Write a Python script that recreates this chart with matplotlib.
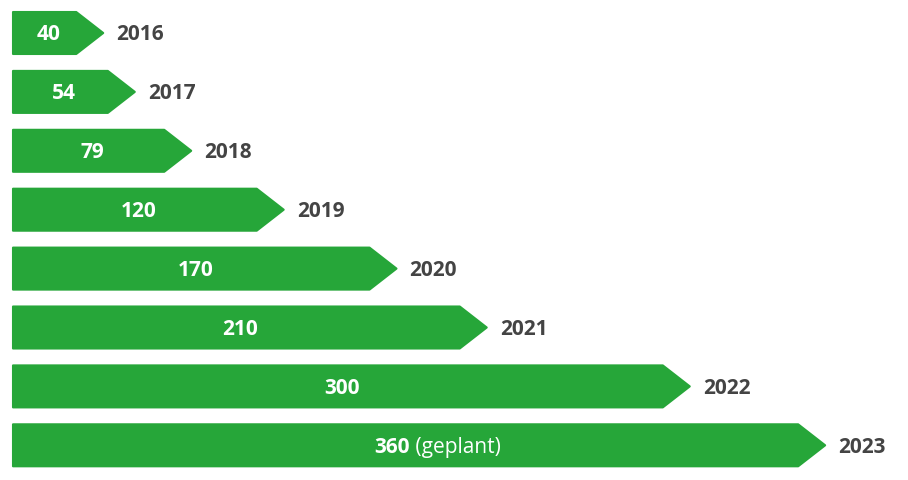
import matplotlib.pyplot as plt
from matplotlib.patches import Polygon

years = ["2016", "2017", "2018", "2019", "2020", "2021", "2022", "2023"]
values = [40, 54, 79, 120, 170, 210, 300, 360]
suffix = ["", "", "", "", "", "", "", " (geplant)"]

green = "#26a639"
grey = "#444444"

fig = plt.figure(figsize=(9.08, 4.81), dpi=100)
ax = fig.add_axes([0, 0, 1, 1])
ax.set_xlim(0, 908)
ax.set_ylim(481, 0)
ax.axis("off")

x0 = 13
scale = 2.256
tip = 27
half = 21
for i, (yr, v, s) in enumerate(zip(years, values, suffix)):
    yc = 34 + i * 58.9
    xe = x0 + v * scale
    pts = [(x0, yc - half), (xe - tip, yc - half), (xe, yc),
           (xe - tip, yc + half), (x0, yc + half)]
    ax.add_patch(Polygon(pts, closed=True, facecolor=green, edgecolor=green,
                         linewidth=1.5, joinstyle="round"))
    xm = (x0 + xe - tip) / 2 + 4
    if s:
        ax.text(xm, yc + 1, f"$\\bf{{{v}}}$", alpha=0)
        t = ax.annotate(str(v), (xm, yc + 1), color="white", fontsize=15,
                        fontweight="bold", family="Open Sans",
                        ha="right", va="center")
        ax.annotate(s, (xm, yc + 1), color="white", fontsize=15,
                    family="Open Sans", ha="left", va="center")
    else:
        ax.text(xm, yc + 1, str(v), color="white", fontsize=15,
                fontweight="bold", family="Open Sans", ha="center", va="center")
    ax.text(xe + 13, yc + 1, yr, color=grey, fontsize=15, fontweight="bold",
            family="Open Sans", ha="left", va="center")

fig.savefig("out.png", dpi=100)
